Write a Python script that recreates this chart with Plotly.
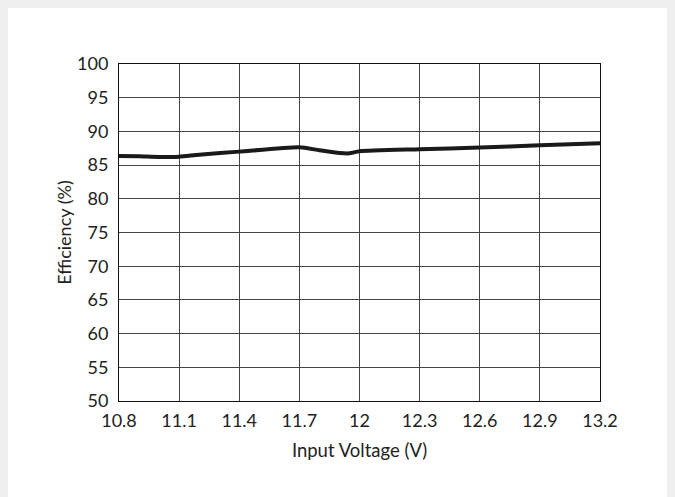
import plotly.graph_objects as go

voltage = [10.8, 10.9, 11.0, 11.1, 11.2, 11.4, 11.7, 11.8, 11.9, 11.95, 12.0, 12.3, 12.6, 12.9, 13.2]
efficiency = [86.35, 86.3, 86.2, 86.25, 86.55, 87.0, 87.65, 87.2, 86.8, 86.75, 87.05, 87.35, 87.6, 87.95, 88.25]
x_ticks = [10.8, 11.1, 11.4, 11.7, 12.0, 12.3, 12.6, 12.9, 13.2]
x_tick_labels = ["10.8", "11.1", "11.4", "11.7", "12", "12.3", "12.6", "12.9", "13.2"]
y_ticks = list(range(50, 101, 5))

fig = go.Figure()
fig.add_trace(go.Scatter(
    x=voltage, y=efficiency, mode="lines",
    line=dict(color="#1a1a1a", width=4, shape="spline", smoothing=0.6),
    showlegend=False, hoverinfo="skip",
))

# page body has an 8px margin; the figure fills the rest of the window
W, H = 667, 489
L, T = 111, 56
PW, PH = 481, 337
R, B = W - L - PW, H - T - PH

fig.update_layout(
    width=W, height=H,
    margin=dict(l=L, r=R, t=T, b=B),
    paper_bgcolor="white", plot_bgcolor="white",
    font=dict(family="Lato, 'Open Sans', sans-serif", size=18, color="#222"),
    xaxis=dict(
        range=[10.8, 13.2], tickvals=x_ticks, ticktext=x_tick_labels,
        showgrid=True, gridcolor="#444", gridwidth=1,
        showline=True, linecolor="#111", linewidth=1, mirror=True,
        ticks="", ticklabelstandoff=3, zeroline=False,
        title=dict(text="Input Voltage (V)", standoff=14, font=dict(size=18.5)),
    ),
    yaxis=dict(
        range=[50, 100], tickvals=y_ticks,
        showgrid=True, gridcolor="#444", gridwidth=1,
        showline=True, linecolor="#111", linewidth=1, mirror=True,
        ticks="", ticklabelstandoff=6, zeroline=False,
        title=dict(text="Efficiency (%)", standoff=0, font=dict(size=18)),
    ),
)

fig.write_html("out.html", post_script="document.body.style.background='#f0f0f0';")
